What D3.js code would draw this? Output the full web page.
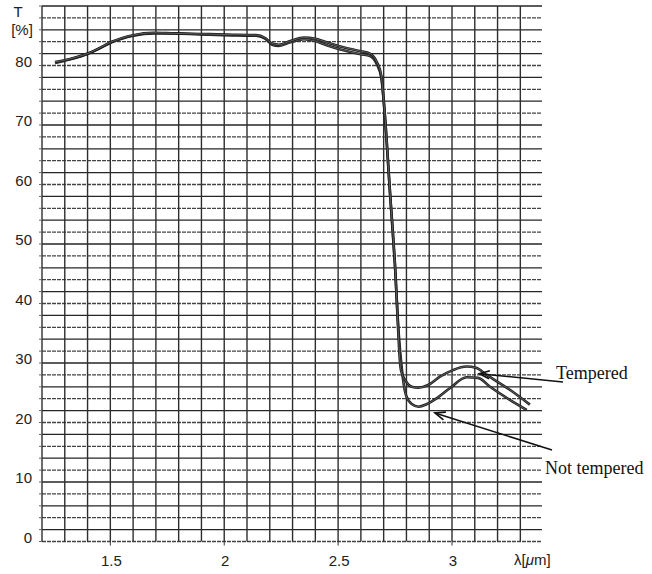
<!DOCTYPE html>
<html>
<head>
<meta charset="utf-8">
<script src="https://cdn.jsdelivr.net/npm/d3@7"></script>
<style>
    body { margin: 0; background: #fff; }
    .tick-label { font-family: "Liberation Sans", Arial, sans-serif; font-size: 15px; fill: #222; }
    .note { font-family: "Liberation Serif", "Times New Roman", serif; font-size: 18px; fill: #111; }
</style>
</head>
<body>
<div id="chart"></div>
<script>
    // values
    const temperedLambda = [1.257, 1.30, 1.35, 1.41, 1.46, 1.506, 1.55, 1.60, 1.69, 1.78, 1.90, 2.00, 2.14, 2.18, 2.21, 2.24, 2.29, 2.35, 2.40, 2.45, 2.51, 2.60, 2.64, 2.67, 2.69, 2.70, 2.73, 2.75, 2.764, 2.770, 2.777, 2.795, 2.823, 2.853, 2.895, 2.947, 3.004, 3.064, 3.105, 3.152, 3.254, 3.342];
    const temperedT = [80.6, 80.9, 81.4, 82.15, 83.1, 84.0, 84.6, 85.1, 85.5, 85.4, 85.3, 85.2, 85.1, 84.6, 83.7, 83.5, 84.1, 84.7, 84.5, 83.9, 83.2, 82.4, 82.0, 80.6, 78.2, 74.3, 57.5, 46.3, 35.2, 31.0, 28.6, 27.1, 26.0, 25.85, 26.3, 27.7, 28.8, 29.4, 29.2, 28.0, 25.5, 23.0];

    const notTemperedLambda = [1.257, 1.30, 1.35, 1.41, 1.46, 1.506, 1.55, 1.60, 1.69, 1.78, 1.90, 2.00, 2.14, 2.18, 2.21, 2.24, 2.29, 2.35, 2.40, 2.45, 2.51, 2.60, 2.64, 2.67, 2.69, 2.70, 2.73, 2.75, 2.766, 2.776, 2.786, 2.798, 2.823, 2.853, 2.890, 2.934, 2.992, 3.064, 3.114, 3.167, 3.254, 3.328];
    const notTemperedT = [80.4, 80.8, 81.3, 82.1, 83.0, 83.9, 84.5, 85.0, 85.4, 85.4, 85.2, 85.1, 85.0, 84.5, 83.5, 83.3, 83.9, 84.4, 84.1, 83.4, 82.7, 81.9, 81.6, 80.2, 77.9, 74.0, 57.3, 46.1, 35.0, 30.5, 27.0, 24.6, 23.1, 22.65, 23.1, 24.1, 25.8, 27.6, 27.5, 26.0, 23.8, 22.1];

    const xTicks = [1.5, 2, 2.5, 3];
    const xTickLabels = ["1.5", "2", "2.5", "3"];
    const yTicks = [0, 10, 20, 30, 40, 50, 60, 70, 80];

    const width = 652;
    const height = 574;

    const svg = d3.select('#chart').append('svg')
        .attr('width', width)
        .attr('height', height);

    svg.append('rect').attr('width', width).attr('height', height).attr('fill', '#fff');

    // 1.2 .. 3.0 um spans 42 .. 452 px
    const x = d3.scaleLinear().domain([1.2, 3.0]).range([42, 452]);
    const y = d3.scaleLinear().domain([0, 90]).range([541.5, 6]);
    const xEnd = x(3.395);

    // grid
    const grid = svg.append('g').attr('class', 'grid');
    const hLines = d3.range(0, 91, 2);
    grid.selectAll('.hline')
        .data(hLines)
        .enter()
        .append('line')
        .attr('x1', x(1.2)).attr('x2', xEnd)
        .attr('y1', d => y(d)).attr('y2', d => y(d))
        .attr('stroke', (d, i) => i % 2 ? '#262626' : '#444')
        .attr('stroke-width', 1.3)
        .attr('stroke-dasharray', (d, i) => i % 2 ? null : '4,1');

    const vLines = d3.range(12, 34).map(d => d / 10);
    grid.selectAll('.vline')
        .data(vLines)
        .enter()
        .append('line')
        .attr('x1', d => x(d)).attr('x2', d => x(d))
        .attr('y1', y(90)).attr('y2', y(0))
        .attr('stroke', '#2e2e2e')
        .attr('stroke-width', 1.4);

    // small ticks
    grid.selectAll('.xt')
        .data(xTicks)
        .enter()
        .append('line')
        .attr('x1', d => x(d)).attr('x2', d => x(d))
        .attr('y1', y(0)).attr('y2', y(0) + 4)
        .attr('stroke', '#333');
    grid.selectAll('.yt')
        .data(hLines)
        .enter()
        .append('line')
        .attr('x1', x(1.2) - 3).attr('x2', x(1.2))
        .attr('y1', d => y(d)).attr('y2', d => y(d))
        .attr('stroke', '#666');

    // tick labels
    svg.selectAll('.xlab')
        .data(xTicks)
        .enter()
        .append('text')
        .attr('class', 'tick-label')
        .attr('x', d => x(d) + 1)
        .attr('y', 566)
        .attr('text-anchor', 'middle')
        .text((d, i) => xTickLabels[i]);

    svg.selectAll('.ylab')
        .data(yTicks)
        .enter()
        .append('text')
        .attr('class', 'tick-label')
        .attr('x', 32)
        .attr('y', d => y(d) + 1)
        .attr('text-anchor', 'end')
        .text(d => d);

    svg.append('text').attr('class', 'tick-label').attr('x', 18).attr('y', 17)
        .attr('text-anchor', 'middle').text('T');
    svg.append('text').attr('class', 'tick-label').attr('x', 22).attr('y', 35)
        .attr('text-anchor', 'middle').text('[%]');

    const unit = svg.append('text').attr('class', 'tick-label').attr('x', 514).attr('y', 565);
    unit.append('tspan').text('λ[');
    unit.append('tspan').attr('font-style', 'italic').text('μ');
    unit.append('tspan').text('m]');

    // curves
    const line = d3.line()
        .x(d => x(d[0]))
        .y(d => y(d[1]))
        .curve(d3.curveMonotoneX);

    const tempered = temperedLambda.map((l, i) => [l, temperedT[i]]);
    const notTempered = notTemperedLambda.map((l, i) => [l, notTemperedT[i]]);

    const curves = svg.append('g').attr('class', 'curves');
    [notTempered, tempered].forEach(s => {
        curves.append('path').attr('d', line(s))
            .attr('fill', 'none')
            .attr('stroke', '#1e1e1e')
            .attr('stroke-width', 2.6);
        curves.append('path').attr('d', line(s))
            .attr('fill', 'none')
            .attr('stroke', '#7a7a7a')
            .attr('stroke-width', 0.7);
    });

    // annotations
    function arrow(x0, y0, x1, y1) {
        const a = Math.atan2(y0 - y1, x0 - x1);
        const len = 11, spread = 0.38;
        svg.append('line')
            .attr('x1', x0).attr('y1', y0).attr('x2', x1).attr('y2', y1)
            .attr('stroke', '#111').attr('stroke-width', 1.6);
        svg.append('path')
            .attr('d', `M${x1 + len * Math.cos(a + spread)},${y1 + len * Math.sin(a + spread)}L${x1},${y1}L${x1 + len * Math.cos(a - spread)},${y1 + len * Math.sin(a - spread)}`)
            .attr('fill', 'none')
            .attr('stroke', '#111')
            .attr('stroke-width', 1.6);
    }

    arrow(563, 382, x(3.12), y(28.2));
    svg.append('text').attr('class', 'note').attr('x', 556).attr('y', 379).text('Tempered');

    arrow(552, 450, x(2.925), y(21.6));
    svg.append('text').attr('class', 'note').attr('x', 545).attr('y', 474).text('Not tempered');
</script>
</body>
</html>
